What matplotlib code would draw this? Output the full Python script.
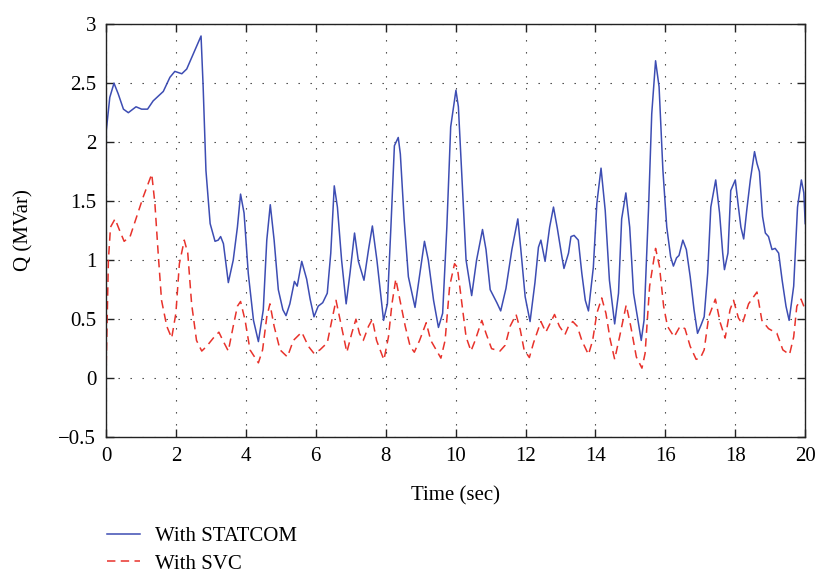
import matplotlib
matplotlib.use("Agg")
import matplotlib.pyplot as plt
from matplotlib.ticker import FixedLocator, FixedFormatter

# Reactive power response, STATCOM vs SVC
t_statcom = [0.00, 0.01, 0.11, 0.23, 0.35, 0.50, 0.64, 0.86, 1.02, 1.19, 1.35, 1.64, 1.83,
             1.97, 2.17, 2.31, 2.50, 2.72, 2.78, 2.86, 2.98, 3.12, 3.21, 3.28, 3.36, 3.50,
             3.64, 3.76, 3.85, 3.95, 4.07, 4.22, 4.36, 4.50, 4.60, 4.70, 4.81, 4.93, 5.06,
             5.15, 5.26, 5.39, 5.47, 5.60, 5.74, 5.84, 5.95, 6.07, 6.20, 6.33, 6.43, 6.53,
             6.62, 6.74, 6.87, 6.98, 7.11, 7.22, 7.38, 7.51, 7.62, 7.75, 7.94, 8.05, 8.15,
             8.25, 8.36, 8.42, 8.53, 8.65, 8.84, 8.98, 9.11, 9.22, 9.37, 9.51, 9.63, 9.75,
             9.86, 10.01, 10.08, 10.18, 10.30, 10.46, 10.60, 10.77, 10.87, 10.99, 11.18,
             11.29, 11.44, 11.61, 11.78, 11.86, 11.99, 12.13, 12.27, 12.37, 12.44, 12.56,
             12.69, 12.80, 12.91, 13.04, 13.10, 13.23, 13.30, 13.39, 13.51, 13.61, 13.71,
             13.80, 13.94, 14.04, 14.16, 14.28, 14.40, 14.55, 14.66, 14.75, 14.87, 14.98,
             15.09, 15.31, 15.39, 15.52, 15.61, 15.72, 15.82, 15.93, 16.04, 16.15, 16.23,
             16.32, 16.39, 16.50, 16.60, 16.71, 16.82, 16.92, 17.02, 17.11, 17.21, 17.30,
             17.44, 17.55, 17.64, 17.69, 17.79, 17.87, 18.00, 18.09, 18.16, 18.24, 18.33,
             18.43, 18.55, 18.62, 18.69, 18.78, 18.86, 18.95, 19.05, 19.14, 19.24, 19.34,
             19.45, 19.54, 19.67, 19.78, 19.89, 19.96, 20.00]
q_statcom = [0.00, 2.10, 2.38, 2.50, 2.41, 2.28, 2.25, 2.30, 2.28, 2.28, 2.35, 2.43, 2.55,
             2.60, 2.58, 2.62, 2.75, 2.90, 2.47, 1.76, 1.31, 1.16, 1.17, 1.20, 1.14, 0.81,
             1.00, 1.28, 1.56, 1.40, 0.89, 0.49, 0.31, 0.58, 1.17, 1.47, 1.17, 0.75, 0.58,
             0.53, 0.63, 0.82, 0.78, 0.99, 0.84, 0.67, 0.52, 0.61, 0.64, 0.72, 1.06, 1.63,
             1.45, 1.00, 0.63, 0.89, 1.23, 0.99, 0.83, 1.09, 1.29, 1.00, 0.49, 0.63, 1.28,
             1.97, 2.04, 1.90, 1.34, 0.86, 0.60, 0.89, 1.16, 1.00, 0.66, 0.43, 0.55, 1.28,
             2.13, 2.44, 2.30, 1.71, 1.00, 0.70, 1.00, 1.26, 1.09, 0.75, 0.64,
             0.57, 0.76, 1.09, 1.35, 1.11, 0.69, 0.48, 0.81, 1.11, 1.17, 0.99,
             1.28, 1.45, 1.27, 1.03, 0.93, 1.06, 1.20, 1.21, 1.17, 0.89, 0.66,
             0.57, 0.94, 1.48, 1.78, 1.42, 0.83, 0.46, 0.72, 1.35, 1.57, 1.28,
             0.72, 0.32, 0.49, 1.45, 2.24, 2.69, 2.47, 1.76, 1.28, 1.03, 0.95,
             1.02, 1.04, 1.17, 1.09, 0.86, 0.58, 0.38, 0.45, 0.52, 0.89, 1.45,
             1.68, 1.40, 1.06, 0.92, 1.06, 1.59, 1.68, 1.45, 1.28, 1.18, 1.43,
             1.68, 1.92, 1.82, 1.75, 1.37, 1.23, 1.20, 1.09, 1.10, 1.06, 0.83,
             0.61, 0.49, 0.78, 1.45, 1.68, 1.57, 1.31]

t_svc = [0.00, 0.07, 0.13, 0.26, 0.38, 0.52, 0.69, 0.88, 1.07, 1.31, 1.40, 1.50, 1.59,
         1.74, 1.88, 2.00, 2.10, 2.24, 2.34, 2.45, 2.59, 2.74, 2.88, 3.07, 3.23, 3.36,
         3.50, 3.64, 3.76, 3.85, 3.98, 4.12, 4.36, 4.48, 4.60, 4.69, 4.81, 4.98, 5.19,
         5.36, 5.60, 5.79, 5.95, 6.12, 6.33, 6.46, 6.58, 6.70, 6.89, 7.03, 7.15, 7.25,
         7.36, 7.51, 7.62, 7.74, 7.95, 8.08, 8.18, 8.29, 8.41, 8.56, 8.70, 8.82, 8.97,
         9.16, 9.29, 9.58, 9.70, 9.83, 9.97, 10.05, 10.18, 10.30, 10.44, 10.56, 10.75,
         10.87, 11.03, 11.27, 11.42, 11.56, 11.73, 11.85, 11.96, 12.11, 12.23, 12.44,
         12.58, 12.83, 12.97, 13.13, 13.23, 13.35, 13.48, 13.61, 13.80, 13.92, 14.04,
         14.18, 14.30, 14.42, 14.55, 14.69, 14.88, 15.01, 15.17, 15.33, 15.42, 15.55,
         15.72, 15.83, 15.95, 16.06, 16.25, 16.42, 16.56, 16.71, 16.88, 17.00, 17.11,
         17.24, 17.43, 17.57, 17.71, 17.85, 17.95, 18.09, 18.20, 18.38, 18.62, 18.76,
         18.95, 19.19, 19.36, 19.55, 19.67, 19.76, 19.88, 20.00]
q_svc = [0.00, 1.00, 1.28, 1.35, 1.26, 1.16, 1.20, 1.37, 1.54, 1.73, 1.48, 1.03, 0.66,
         0.44, 0.34, 0.55, 0.97, 1.17, 1.06, 0.63, 0.32, 0.23, 0.27, 0.34, 0.39, 0.31,
         0.23, 0.44, 0.61, 0.65, 0.49, 0.24, 0.13, 0.24, 0.52, 0.63, 0.44, 0.24, 0.18,
         0.32, 0.39, 0.27, 0.21, 0.24, 0.30, 0.49, 0.66, 0.49, 0.22, 0.38, 0.50, 0.38,
         0.32, 0.44, 0.50, 0.32, 0.155, 0.35, 0.63, 0.84, 0.66, 0.44, 0.27, 0.22, 0.32,
         0.47, 0.32, 0.17, 0.32, 0.78, 0.97, 0.94, 0.63, 0.35, 0.23, 0.32, 0.49,
         0.38, 0.25, 0.23, 0.28, 0.44, 0.54, 0.41, 0.24, 0.175, 0.30, 0.48,
         0.39, 0.54, 0.44, 0.37, 0.44, 0.48, 0.44, 0.32, 0.20, 0.32, 0.55,
         0.68, 0.55, 0.33, 0.16, 0.35, 0.62, 0.44, 0.18, 0.085, 0.21, 0.78,
         1.10, 0.95, 0.61, 0.44, 0.35, 0.44, 0.42, 0.27, 0.16, 0.17, 0.24,
         0.52, 0.67, 0.47, 0.34, 0.58, 0.66, 0.51, 0.46, 0.63, 0.73, 0.49,
         0.42, 0.38, 0.24, 0.20, 0.35, 0.61, 0.67, 0.58]

x_ticks = [0, 2, 4, 6, 8, 10, 12, 14, 16, 18, 20]
y_ticks = [-0.5, 0, 0.5, 1, 1.5, 2, 2.5, 3]
y_tick_labels = ["\u22120.5", "0", "0.5", "1", "1.5", "2", "2.5", "3"]

plt.rcParams['font.family'] = ['Liberation Serif', 'DejaVu Serif']
plt.rcParams['font.size'] = 15

fig = plt.figure(figsize=(8.15, 5.76), dpi=100)
ax = fig.add_axes([0.130, 0.241, 0.858, 0.717])

ax.plot(t_statcom, q_statcom, color='#3d4db3', linewidth=1.1, label='With STATCOM')
ax.plot(t_svc, q_svc, color='#e8322b', linewidth=1.1, linestyle=(0, (5.5, 3.5)),
        label='With SVC')

ax.set_xlim(0, 20)
ax.set_ylim(-0.5, 3)
ax.xaxis.set_major_locator(FixedLocator(x_ticks))
ax.yaxis.set_major_locator(FixedLocator(y_ticks))
ax.yaxis.set_major_formatter(FixedFormatter(y_tick_labels))

ax.tick_params(direction='in', length=6, width=1, top=True, right=True,
               labelsize=15, pad=7, color='#222222')
for s in ax.spines.values():
    s.set_color('#222222')
    s.set_linewidth(1.0)

ax.grid(True, color='#333333', linewidth=0.8, linestyle=(0, (1.2, 9.6)))

ax.set_xlabel('Time (sec)', fontsize=15)
ax.xaxis.set_label_coords(0.5, -0.118)
# y label placed in figure coordinates so it stays inside the canvas
fig.text(24 / 815, 0.601, 'Q (MVar)', rotation=90, ha='center', va='center', fontsize=15)

fig.legend(loc='upper left', bbox_to_anchor=(0.131, 0.086), frameon=False,
           fontsize=15, handlelength=1.6, handletextpad=0.7, labelspacing=0.38,
           borderpad=0, borderaxespad=0)

fig.savefig('out.png', dpi=100)
